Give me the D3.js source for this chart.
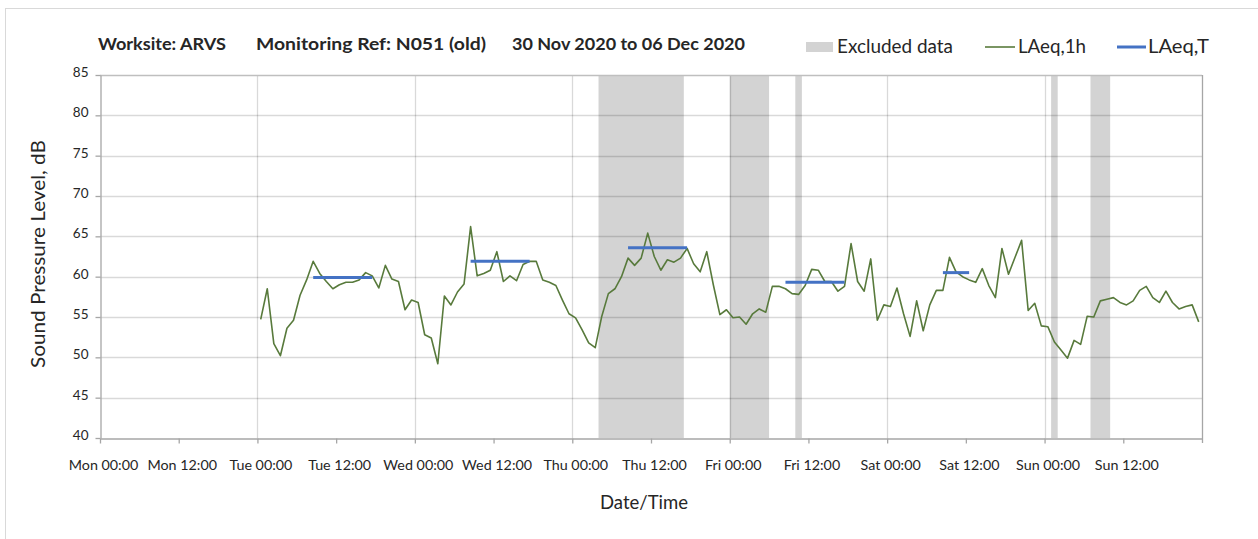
<!DOCTYPE html>
<html>
<head>
<meta charset="utf-8">
<script src="https://cdn.jsdelivr.net/npm/d3@7"></script>
<style>
  html, body { margin: 0; padding: 0; background: #fff; }
  svg { display: block; }
  text { font-family: Lato, "Open Sans", sans-serif; fill: #262626; }
</style>
</head>
<body>
<svg id="chart" width="1258" height="539"></svg>
<script>
// ---------- DATA ----------
const titleParts = ["Worksite: ARVS", "Monitoring Ref: N051 (old)", "30 Nov 2020 to 06 Dec 2020"];
const axisStart = "2020-11-30T00:00";
const axisEnd = "2020-12-07T00:00";
const yTicks = [40, 45, 50, 55, 60, 65, 70, 75, 80, 85];

// hourly LAeq,1h values, first hour starts Tue 01 Dec 00:00
const hourlyStart = "2020-12-01T00:00";
const laeq1h = [
  54.7, 58.5, 51.7, 50.2, 53.6, 54.6, 57.7, 59.6, 61.9, 60.4, 59.4, 58.5,
  59.0, 59.3, 59.3, 59.6, 60.5, 60.1, 58.6, 61.4, 59.7, 59.4, 55.9, 57.1,
  56.8, 52.8, 52.4, 49.2, 57.6, 56.5, 58.1, 59.1, 66.2, 60.1, 60.4, 60.8,
  63.1, 59.4, 60.1, 59.5, 61.5, 61.9, 61.9, 59.6, 59.3, 58.9, 57.1, 55.4,
  54.9, 53.4, 51.8, 51.2, 55.1, 57.9, 58.5, 60.0, 62.3, 61.4, 62.3, 65.4,
  62.5, 60.8, 62.1, 61.8, 62.3, 63.5, 61.6, 60.6, 63.1, 59.0, 55.3, 55.9,
  54.9, 55.0, 54.1, 55.4, 56.0, 55.6, 58.8, 58.8, 58.5, 57.9, 57.8, 58.9,
  60.9, 60.8, 59.4, 59.4, 58.2, 58.8, 64.1, 59.4, 58.2, 62.2, 54.6, 56.5,
  56.3, 58.6, 55.4, 52.6, 57.0, 53.3, 56.5, 58.3, 58.3, 62.4, 60.6, 60.0,
  59.6, 59.3, 61.0, 58.9, 57.4, 63.5, 60.3, 62.4, 64.5, 55.8, 56.7, 53.9,
  53.8, 51.9, 50.9, 49.9, 52.1, 51.6, 55.1, 55.0, 57.0, 57.2, 57.4, 56.8,
  56.5, 57.0, 58.3, 58.8, 57.4, 56.8, 58.2, 56.8, 56.0, 56.3, 56.5, 54.4
];

// LAeq,T periods (first and last hourly interval start)
const tPeriodFirst = ["2020-12-01T08:00", "2020-12-02T08:00", "2020-12-03T08:00", "2020-12-04T08:00", "2020-12-05T08:00"];
const tPeriodLast  = ["2020-12-01T17:00", "2020-12-02T17:00", "2020-12-03T17:00", "2020-12-04T17:00", "2020-12-05T12:00"];
const laeqT = [59.9, 61.9, 63.6, 59.3, 60.5];

// Excluded data periods
const exclStart = ["2020-12-03T04:00", "2020-12-04T00:00", "2020-12-04T10:00", "2020-12-06T01:00", "2020-12-06T07:00"];
const exclEnd   = ["2020-12-03T17:00", "2020-12-04T06:00", "2020-12-04T11:00", "2020-12-06T02:00", "2020-12-06T10:00"];

// ---------- CHART ----------
const parse = d3.timeParse("%Y-%m-%dT%H:%M");
const HOUR = 3600 * 1000;
const svg = d3.select("#chart");
const W = 1258, H = 539;
const plot = { left: 100, right: 1202, top: 75, bottom: 438 };

// outer chart border
svg.append("rect").attr("x", 5.5).attr("y", 8.5).attr("width", W + 10).attr("height", H + 10)
  .attr("fill", "none").attr("stroke", "#d9d9d9");

const x = d3.scaleTime().domain([parse(axisStart), parse(axisEnd)]).range([plot.left, plot.right]);
const y = d3.scaleLinear().domain([40, 85]).range([plot.bottom, plot.top]);

// excluded rects
svg.append("g").selectAll("rect").data(exclStart.map((s, i) => [parse(s), parse(exclEnd[i])]))
  .join("rect")
  .attr("x", d => x(d[0])).attr("width", d => x(d[1]) - x(d[0]))
  .attr("y", plot.top).attr("height", plot.bottom - plot.top)
  .attr("fill", "#d3d3d3");

// gridlines
const majorTicks = x.ticks(d3.timeDay.every(1));
const minorTicks = x.ticks(d3.timeHour.every(12));
const labelTicks = minorTicks.filter(t => x(t) < plot.right - 1);
const grid = svg.append("g");
grid.selectAll("line.h").data(yTicks.filter(v => v > 40 && v < 85)).join("line")
  .attr("x1", plot.left).attr("x2", plot.right)
  .attr("y1", d => Math.round(y(d)) + 0.5).attr("y2", d => Math.round(y(d)) + 0.5)
  .attr("stroke", "#000").attr("stroke-opacity", 0.15).attr("stroke-width", 1.3);
grid.selectAll("line.v").data(majorTicks.filter(t => x(t) > plot.left + 1 && x(t) < plot.right - 1)).join("line")
  .attr("y1", plot.top).attr("y2", plot.bottom)
  .attr("x1", d => Math.round(x(d)) + 0.5).attr("x2", d => Math.round(x(d)) + 0.5)
  .attr("stroke", "#000").attr("stroke-opacity", 0.15).attr("stroke-width", 1.3);

// plot frame top/right
svg.append("line").attr("x1", plot.left).attr("x2", plot.right).attr("y1", plot.top + 0.5).attr("y2", plot.top + 0.5)
  .attr("stroke", "#bfbfbf").attr("stroke-width", 1.3);
svg.append("line").attr("x1", plot.right + 0.5).attr("x2", plot.right + 0.5).attr("y1", plot.top).attr("y2", plot.bottom + 5)
  .attr("stroke", "#a6a6a6").attr("stroke-width", 1.3);

// axes
const fmt = d3.timeFormat("%a %H:%M");
const xAxis = d3.axisBottom(x).tickValues(labelTicks).tickFormat(fmt).tickSize(5).tickSizeOuter(0);
const gx = svg.append("g").attr("transform", `translate(0,${plot.bottom + 0.5})`).call(xAxis);
gx.select(".domain").attr("stroke", "#a6a6a6").attr("stroke-width", 1.3);
gx.selectAll(".tick line").attr("stroke", "#a6a6a6").attr("stroke-width", 1.3);
gx.selectAll(".tick text").attr("font-size", 14.3).attr("dy", 0).attr("y", 31).attr("dx", 3)
  .style("font-family", "Lato, sans-serif").attr("fill", "#262626");

const yAxis = d3.axisLeft(y).tickValues(yTicks).tickSize(5).tickSizeOuter(0).tickFormat(d3.format("d"));
const gy = svg.append("g").attr("transform", `translate(${plot.left + 0.5},0)`).call(yAxis);
gy.select(".domain").attr("stroke", "#a6a6a6").attr("stroke-width", 1.3);
gy.selectAll(".tick line").attr("stroke", "#a6a6a6").attr("stroke-width", 1.3);
gy.selectAll(".tick text").attr("font-size", 13.5).attr("x", -12).attr("dy", "0.1em")
  .style("font-family", "Lato, sans-serif").attr("fill", "#262626");

// hourly line
const t0 = parse(hourlyStart).getTime();
const line = d3.line().x((d, i) => x(new Date(t0 + i * HOUR + HOUR / 2))).y(d => y(d));
svg.append("path").datum(laeq1h).attr("d", line)
  .attr("fill", "none").attr("stroke", "#587a3c").attr("stroke-width", 1.6).attr("stroke-linejoin", "round");

// LAeq,T lines
svg.append("g").selectAll("line").data(laeqT.map((v, i) => ({ a: parse(tPeriodFirst[i]), b: parse(tPeriodLast[i]), v })))
  .join("line")
  .attr("x1", d => x(new Date(d.a.getTime() + HOUR / 2)))
  .attr("x2", d => x(new Date(d.b.getTime() + HOUR / 2)))
  .attr("y1", d => y(d.v)).attr("y2", d => y(d.v))
  .attr("stroke", "#4472c4").attr("stroke-width", 3);

// title
const titleX = [98, 256, 512];
const titleW = [128, 230, 233];
svg.append("g").selectAll("text").data(titleParts).join("text")
  .attr("x", (d, i) => titleX[i]).attr("y", 50)
  .attr("font-size", 17).attr("font-weight", "bold").attr("fill", "#0d0d0d")
  .attr("textLength", (d, i) => titleW[i]).attr("lengthAdjust", "spacingAndGlyphs")
  .text(d => d);

// legend
const lg = svg.append("g");
lg.append("rect").attr("x", 806).attr("y", 42).attr("width", 27).attr("height", 10).attr("fill", "#d3d3d3");
lg.append("text").attr("x", 837).attr("y", 53).attr("font-size", 18.5).attr("textLength", 116).attr("lengthAdjust", "spacingAndGlyphs").text("Excluded data");
lg.append("line").attr("x1", 985).attr("x2", 1015).attr("y1", 47).attr("y2", 47).attr("stroke", "#587a3c").attr("stroke-width", 1.6);
lg.append("text").attr("x", 1018).attr("y", 53).attr("font-size", 18.5).attr("textLength", 68).attr("lengthAdjust", "spacingAndGlyphs").text("LAeq,1h");
lg.append("line").attr("x1", 1117).attr("x2", 1146).attr("y1", 47).attr("y2", 47).attr("stroke", "#4472c4").attr("stroke-width", 3);
lg.append("text").attr("x", 1148).attr("y", 53).attr("font-size", 18.5).attr("textLength", 61).attr("lengthAdjust", "spacingAndGlyphs").text("LAeq,T");

// axis titles
svg.append("text").attr("transform", "translate(45,254) rotate(-90)").attr("text-anchor", "middle")
  .attr("font-size", 18.5).attr("textLength", 228).attr("lengthAdjust", "spacingAndGlyphs").text("Sound Pressure Level, dB");
svg.append("text").attr("x", 644).attr("y", 509).attr("text-anchor", "middle")
  .attr("font-size", 18.5).attr("textLength", 88).attr("lengthAdjust", "spacingAndGlyphs").text("Date/Time");
</script>
</body>
</html>
